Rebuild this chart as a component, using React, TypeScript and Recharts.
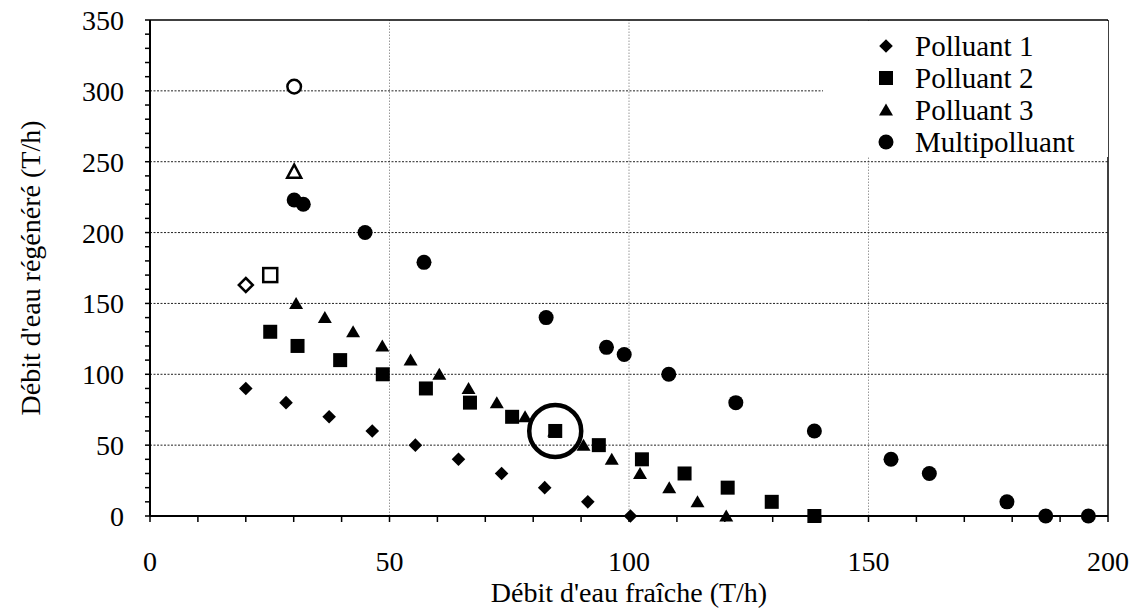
import { Label, Legend, ReferenceLine, Scatter, ScatterChart, XAxis, YAxis } from "recharts";

const FONT = '"Liberation Serif", "Times New Roman", serif';
const INK = "#000";

// Polluant 1 (losanges)
const p1X = [20, 28.4, 37.4, 46.4, 55.4, 64.4, 73.4, 82.4, 91.4, 100.3];
const p1Y = [90, 80, 70, 60, 50, 40, 30, 20, 10, 0];

// Polluant 2 (carrés)
const p2X = [25.1, 30.8, 39.7, 48.6, 57.6, 66.8, 75.6, 84.6, 93.7, 102.7, 111.6, 120.6, 129.8, 138.7];
const p2Y = [130, 120, 110, 100, 90, 80, 70, 60, 50, 40, 30, 20, 10, 0];

// Polluant 3 (triangles)
const p3X = [30.5, 36.5, 42.4, 48.5, 54.4, 60.4, 66.5, 72.4, 78.3, 84.4, 90.5, 96.4, 102.3, 108.4, 114.3, 120.3];
const p3Y = [150, 140, 130, 120, 110, 100, 90, 80, 70, 60, 50, 40, 30, 20, 10, 0];

// Multipolluant (ronds)
const multiX = [30.1, 32, 44.9, 57.2, 82.7, 95.3, 99, 108.3, 122.3, 138.7, 154.7, 162.7, 178.9, 187, 195.9];
const multiY = [223, 220, 200, 179, 140, 119, 114, 100, 80, 60, 40, 30, 10, 0, 0];

// points de départ (symboles vides)
const openX = [20, 25.1, 30.1, 30.1];
const openY = [163, 170, 243, 303];
const openKind = ["diamond", "square", "triangle", "circle"];

// point entouré
const focusX = [84.6];
const focusY = [60];

const xMajor = [0, 50, 100, 150, 200];
const yMajor = [0, 50, 100, 150, 200, 250, 300, 350];
const xGrid = [50, 100, 150];
const yGrid = [50, 100, 150, 200, 250, 300];
const xTicks = Array.from({ length: 21 }, (_, i) => i * 10);
const yTicks = Array.from({ length: 36 }, (_, i) => i * 10);

const legendItems = [
  { kind: "diamond", label: "Polluant 1" },
  { kind: "square", label: "Polluant 2" },
  { kind: "triangle", label: "Polluant 3" },
  { kind: "circle", label: "Multipolluant" },
];

const toPoints = (xs: number[], ys: number[]) => xs.map((x, i) => ({ x, y: ys[i] }));

const p1 = toPoints(p1X, p1Y);
const p2 = toPoints(p2X, p2Y);
const p3 = toPoints(p3X, p3Y);
const multi = toPoints(multiX, multiY);
const open = openX.map((x, i) => ({ x, y: openY[i], kind: openKind[i] }));
const focus = toPoints(focusX, focusY);

function Marker({ cx, cy, kind, hollow }: { cx: number; cy: number; kind: string; hollow?: boolean }) {
  const fill = hollow ? "#fff" : INK;
  const stroke = hollow ? INK : "none";
  const sw = hollow ? 2.5 : 0;
  if (kind === "diamond") {
    const h = hollow ? 7 : 6.8;
    return <polygon points={`${cx},${cy - h} ${cx + h},${cy} ${cx},${cy + h} ${cx - h},${cy}`} fill={fill} stroke={stroke} strokeWidth={sw} />;
  }
  if (kind === "square") {
    const h = 7;
    return <rect x={cx - h} y={cy - h} width={h * 2} height={h * 2} fill={fill} stroke={stroke} strokeWidth={sw} />;
  }
  if (kind === "triangle") {
    const w = 7;
    const up = hollow ? 7 : 6.5;
    const dn = hollow ? 6 : 5.5;
    return <polygon points={`${cx},${cy - up} ${cx + w},${cy + dn} ${cx - w},${cy + dn}`} fill={fill} stroke={stroke} strokeWidth={sw} />;
  }
  return <circle cx={cx} cy={cy} r={hollow ? 6.8 : 7.5} fill={fill} stroke={stroke} strokeWidth={sw} />;
}

const shapeOf = (kind: string) => (props: any) => <Marker cx={props.cx} cy={props.cy} kind={kind} />;

function LegendBox() {
  return (
    <div style={{ background: "#fff", width: 285, height: 136, paddingTop: 9, boxSizing: "border-box", fontFamily: FONT }}>
      {legendItems.map((it) => (
        <div key={it.label} style={{ display: "flex", alignItems: "center", height: 32 }}>
          <svg width={20} height={20} style={{ marginLeft: 53 }}>
            <Marker cx={10} cy={10} kind={it.kind} />
          </svg>
          <span style={{ marginLeft: 19, fontSize: 29, color: INK, lineHeight: "32px", whiteSpace: "nowrap" }}>{it.label}</span>
        </div>
      ))}
    </div>
  );
}

function YTitle(props: any) {
  const vb = props.viewBox;
  const x = vb.x + 30;
  const y = vb.y + vb.height / 2;
  return (
    <text x={x} y={y} transform={`rotate(-90 ${x} ${y})`} textAnchor="middle" dominantBaseline="central" fontFamily={FONT} fontSize={28} fill={INK}>
      Débit d'eau régénéré (T/h)
    </text>
  );
}

export default function App() {
  const tickStyle = { fill: INK, fontSize: 28, fontFamily: FONT };
  return (
    <div style={{ position: "absolute", left: 0, top: 0, background: "#fff" }}>
      <ScatterChart width={1136} height={608} margin={{ top: 20, right: 28, bottom: 0, left: 0 }}>
        <XAxis
          dataKey="x"
          type="number"
          domain={[0, 200]}
          ticks={xTicks}
          interval={0}
          tickFormatter={(v: number) => (xMajor.includes(v) ? String(v) : "")}
          tick={tickStyle}
          tickSize={6}
          tickMargin={29}
          height={92}
          axisLine={{ stroke: INK, strokeWidth: 2 }}
          tickLine={{ stroke: INK, strokeWidth: 1.5 }}
        >
          <Label value="Débit d'eau fraîche (T/h)" position="insideBottom" offset={6} fontFamily={FONT} fontSize={28} fill={INK} />
        </XAxis>
        <YAxis
          dataKey="y"
          type="number"
          domain={[0, 350]}
          ticks={yTicks}
          interval={0}
          tickFormatter={(v: number) => (yMajor.includes(v) ? String(v) : "")}
          tick={tickStyle}
          tickSize={5}
          tickMargin={21}
          width={150}
          axisLine={{ stroke: INK, strokeWidth: 2 }}
          tickLine={{ stroke: INK, strokeWidth: 1.5 }}
        >
          <Label content={YTitle} />
        </YAxis>
        {xGrid.map((v) => (
          <ReferenceLine key={`vx${v}`} x={v} stroke="#999" strokeDasharray="1.5 1.5" strokeWidth={1} />
        ))}
        {yGrid.map((v) => (
          <ReferenceLine key={`hy${v}`} y={v} stroke="#222" strokeDasharray="2 1.5" strokeWidth={1} />
        ))}
        <ReferenceLine y={350} stroke={INK} strokeWidth={1.5} />
        <ReferenceLine x={200} stroke={INK} strokeWidth={1.5} />
        <Legend layout="horizontal" verticalAlign="middle" align="center" content={LegendBox} wrapperStyle={{ left: 823, top: 21, width: 285, height: 136 }} />
        <Scatter name="Polluant 1" data={p1} shape={shapeOf("diamond")} isAnimationActive={false} />
        <Scatter name="Polluant 3" data={p3} shape={shapeOf("triangle")} isAnimationActive={false} />
        <Scatter name="Polluant 2" data={p2} shape={shapeOf("square")} isAnimationActive={false} />
        <Scatter name="Multipolluant" data={multi} shape={shapeOf("circle")} isAnimationActive={false} />
        <Scatter
          name="départ"
          data={open}
          legendType="none"
          shape={(props: any) => <Marker cx={props.cx} cy={props.cy} kind={props.payload.kind} hollow />}
          isAnimationActive={false}
        />
        <Scatter
          name="optimum"
          data={focus}
          legendType="none"
          shape={(props: any) => <circle cx={props.cx} cy={props.cy} r={26} fill="none" stroke={INK} strokeWidth={4.5} />}
          isAnimationActive={false}
        />
      </ScatterChart>
    </div>
  );
}
